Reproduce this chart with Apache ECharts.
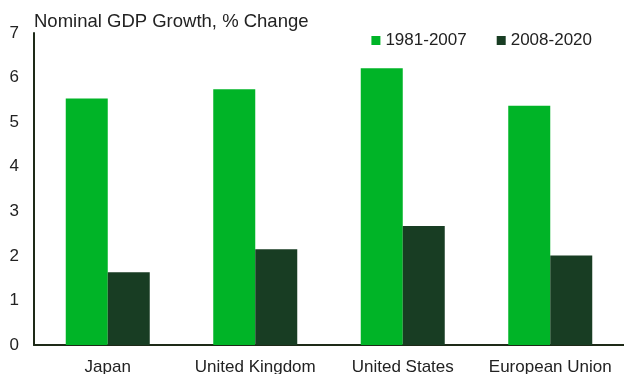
<!DOCTYPE html>
<html><head><meta charset="utf-8">
<script src="https://cdn.jsdelivr.net/npm/echarts@6/dist/echarts.min.js"></script>
<style>html,body{margin:0;padding:0;background:#fff}#c{width:624px;height:374px}</style>
</head><body><div id="c"></div>
<script>
const categories = ['Japan', 'United Kingdom', 'United States', 'European Union'];
const series1981 = [5.53, 5.74, 6.21, 5.37];
const series2008 = [1.63, 2.15, 2.67, 2.01];
const seriesNames = ['1981-2007', '2008-2020'];
const yTicks = [0, 1, 2, 3, 4, 5, 6, 7];

const chart = echarts.init(document.getElementById('c'), null, {renderer: 'canvas'});
const font = '"Liberation Sans", Arial, sans-serif';
chart.setOption({
  animation: false,
  title: {
    text: 'Nominal GDP Growth, % Change', left: 29, top: 7,
    textStyle: {fontFamily: font, fontSize: 18.5, fontWeight: 'normal', color: '#222'}
  },
  legend: {
    data: seriesNames, right: 27, top: 27, itemWidth: 9, itemHeight: 9, itemGap: 30,
    icon: 'rect',
    textStyle: {fontFamily: font, fontSize: 17, color: '#222', padding: [0, 0, 0, 0]}
  },
  grid: {left: 34, right: 0, top: 33, bottom: 29, containLabel: false, outerBoundsMode: 'none'},
  xAxis: {
    type: 'category', data: categories,
    axisLine: {lineStyle: {color: '#1e2a18', width: 2}},
    axisTick: {show: false},
    axisLabel: {fontFamily: font, fontSize: 17, color: '#222', margin: 14, interval: 0}
  },
  yAxis: {
    type: 'value', min: 0, max: 7, interval: 1,
    axisLine: {show: true, lineStyle: {color: '#1e2a18', width: 2}},
    axisTick: {show: false},
    splitLine: {show: false},
    axisLabel: {fontFamily: font, fontSize: 17, color: '#222', margin: 15,
      formatter: v => yTicks.includes(v) ? String(v) : ''}
  },
  series: [
    {name: seriesNames[0], type: 'bar', data: series1981, barWidth: 42, barGap: '0%',
     itemStyle: {color: '#00B427'}},
    {name: seriesNames[1], type: 'bar', data: series2008, barWidth: 42,
     itemStyle: {color: '#183D23'}}
  ]
});
</script></body></html>
